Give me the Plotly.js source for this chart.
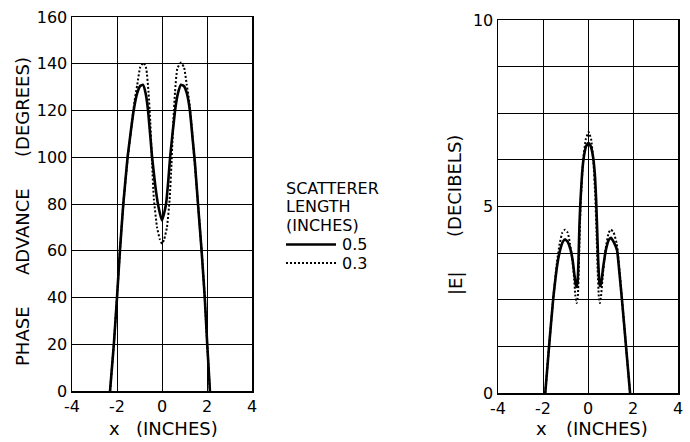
<!DOCTYPE html>
<html>
<head>
<meta charset="utf-8">
<script src="https://cdn.plot.ly/plotly-3.0.1.min.js"></script>
<style>html,body{margin:0;padding:0;background:#fff;}#chart{width:690px;height:442px;}</style>
</head>
<body>
<div id="chart"></div>
<script>
// ---- Data ----
// Left panel: phase advance (degrees) vs x (inches)
const phaseX_05 = [-2.31,-2.14,-2.0,-1.87,-1.72,-1.53,-1.4,-1.26,-1.1,-0.97,-0.84,-0.72,-0.62,-0.44,-0.3,-0.18,-0.08,0,0.08,0.18,0.28,0.36,0.58,0.7,0.84,0.97,1.1,1.24,1.36,1.46,1.6,1.76,1.9,2.01,2.13];
const phaseY_05 = [0,20,40,60,80,100,110,120,127.5,130.5,131,127,120,100,88,80,75.5,73,75.5,80,90,100,120,127,131,130.5,127.5,120,108,98,80,60,40,20,0];
const phaseX_03 = [-2.31,-2.14,-2.0,-1.87,-1.72,-1.52,-1.36,-1.22,-1.1,-0.97,-0.82,-0.7,-0.6,-0.52,-0.44,-0.36,-0.22,-0.1,0,0.1,0.22,0.34,0.42,0.5,0.58,0.68,0.84,0.98,1.1,1.21,1.33,1.45,1.6,1.76,1.9,2.01,2.13];
const phaseY_03 = [0,20,40,60,80,100,113,124,131,138.5,140.5,138,128,115,97,82,70,65,63,65,70,82,97,115,128,138,140.5,138.5,131,124,112,98,80,60,40,20,0];

// Right panel: |E| (decibels) vs x (inches)
const ampX_05 = [-1.9,-1.73,-1.55,-1.35,-1.24,-1.12,-1.02,-0.9,-0.78,-0.68,-0.6,-0.53,-0.5,-0.46,-0.42,-0.38,-0.33,-0.26,-0.18,-0.08,0.02,0.12,0.22,0.3,0.36,0.4,0.45,0.5,0.53,0.58,0.67,0.8,0.92,1.02,1.14,1.29,1.4,1.51,1.69,1.87];
const ampY_05 = [0,1.25,2.5,3.5,3.83,4.05,4.12,4.05,3.85,3.55,3.15,2.88,2.84,3.0,3.6,4.5,5.2,5.9,6.35,6.62,6.7,6.62,6.35,5.9,5.2,4.5,3.6,3.0,2.87,2.92,3.35,3.85,4.1,4.16,4.05,3.83,3.2,2.5,1.25,0];
const ampX_03 = [-1.9,-1.73,-1.55,-1.38,-1.26,-1.14,-1.02,-0.9,-0.8,-0.7,-0.62,-0.56,-0.5,-0.45,-0.41,-0.37,-0.31,-0.22,-0.1,0.03,0.14,0.24,0.32,0.38,0.43,0.48,0.53,0.58,0.65,0.73,0.82,0.92,1.02,1.14,1.28,1.4,1.51,1.69,1.87];
const ampY_03 = [0,1.25,2.5,3.5,4.0,4.3,4.38,4.3,4.0,3.6,3.1,2.6,2.41,2.6,3.3,4.3,5.3,6.2,6.8,7.0,6.8,6.2,5.3,4.3,3.3,2.6,2.41,2.6,3.1,3.6,4.0,4.3,4.38,4.3,4.0,3.3,2.5,1.25,0];

// Axis ticks / labels
const xTicks = [-4,-2,0,2,4];
const phaseTicks = [0,20,40,60,80,100,120,140,160];
const ampGrid = [0,1.25,2.5,3.75,5,6.25,7.5,8.75,10];
const ampLabels = ['0','','','','5','','','','10'];
const seriesNames = ['0.5','0.3'];
const legendTitle = ['SCATTERER','LENGTH','(INCHES)'];

const FONT = 'DejaVu Sans, Liberation Sans, sans-serif';
const W = 690, H = 442;
const px = v => v / W;
const py = v => (H - v) / H;

const solid = {color:'#000', width:2.6, shape:'spline', smoothing:0.4};
const dotted = {color:'#000', width:2, dash:'2px,2px', shape:'spline', smoothing:0.4};

const traces = [
  {x: phaseX_05, y: phaseY_05, xaxis:'x', yaxis:'y', mode:'lines', name: seriesNames[0], line: solid, showlegend:false},
  {x: phaseX_03, y: phaseY_03, xaxis:'x', yaxis:'y', mode:'lines', name: seriesNames[1], line: dotted, showlegend:false},
  {x: ampX_05, y: ampY_05, xaxis:'x2', yaxis:'y2', mode:'lines', name: seriesNames[0], line: solid, showlegend:false},
  {x: ampX_03, y: ampY_03, xaxis:'x2', yaxis:'y2', mode:'lines', name: seriesNames[1], line: dotted, showlegend:false}
];

const axCommon = {
  showgrid:true, gridcolor:'#000', gridwidth:1,
  showline:true, linecolor:'#000', linewidth:1.5, mirror:true,
  zeroline:false, ticks:'', tickfont:{family:FONT, size:16, color:'#000'},
  fixedrange:true
};

const tf = {family:FONT, size:18, color:'#000'};
const lf = {family:FONT, size:16, color:'#000'};
const ann = (x, y, text, font, angle) => ({xref:'paper', yref:'paper', x:px(x), y:py(y), text:text, textangle:angle||0, showarrow:false, font:font, xanchor:'center', yanchor:'middle'});
const annL = (x, y, text) => ({xref:'paper', yref:'paper', x:px(x), y:py(y), text:text, showarrow:false, font:lf, xanchor:'left', yanchor:'middle'});

// legend drawn by hand: title lines, sample lines and labels
const legX = 286, legY0 = 188, legStep = 18.5;
const annotations = [
  ann(22, 107, '(DEGREES)', tf, -90),
  ann(22, 232, 'ADVANCE', tf, -90),
  ann(22, 336, 'PHASE', tf, -90),
  ann(114, 428, 'x', tf), ann(177, 428, '(INCHES)', tf),
  ann(455, 186, '(DECIBELS)', tf, -90),
  ann(455, 283, '|E|', tf, -90),
  ann(541, 428, 'x', tf), ann(607, 428, '(INCHES)', tf)
];
legendTitle.forEach((t, i) => annotations.push(annL(legX - 2, legY0 + i * legStep, t)));
const sampleY = [legY0 + 3 * legStep + 1, legY0 + 4 * legStep + 1];
seriesNames.forEach((n, i) => annotations.push(annL(legX + 54, sampleY[i], n)));
const shapes = [
  {type:'line', xref:'paper', yref:'paper', x0:px(legX), x1:px(legX + 50), y0:py(sampleY[0]), y1:py(sampleY[0]), line:{color:'#000', width:2.6}},
  {type:'line', xref:'paper', yref:'paper', x0:px(legX), x1:px(legX + 50), y0:py(sampleY[1]), y1:py(sampleY[1]), line:{color:'#000', width:2, dash:'2px,2px'}}
];

const layout = {
  width: W, height: H,
  margin:{l:0,r:0,t:0,b:0},
  paper_bgcolor:'#fff', plot_bgcolor:'#fff',
  font:{family:FONT, color:'#000', size:14},
  xaxis: Object.assign({}, axCommon, {domain:[px(72), px(252)], range:[-4,4], tickvals:xTicks, ticktext:xTicks.map(String), anchor:'y'}),
  yaxis: Object.assign({}, axCommon, {domain:[py(391), py(17)], range:[0,160], tickvals:phaseTicks, anchor:'x'}),
  xaxis2: Object.assign({}, axCommon, {domain:[px(498), px(678)], range:[-4,4], tickvals:xTicks, ticktext:xTicks.map(String), anchor:'y2'}),
  yaxis2: Object.assign({}, axCommon, {domain:[py(393), py(20)], range:[0,10], tickvals:ampGrid, ticktext:ampLabels, anchor:'x2'}),
  showlegend:false,
  annotations: annotations,
  shapes: shapes
};

Plotly.newPlot('chart', traces, layout, {displayModeBar:false, staticPlot:true});
</script>
</body>
</html>
